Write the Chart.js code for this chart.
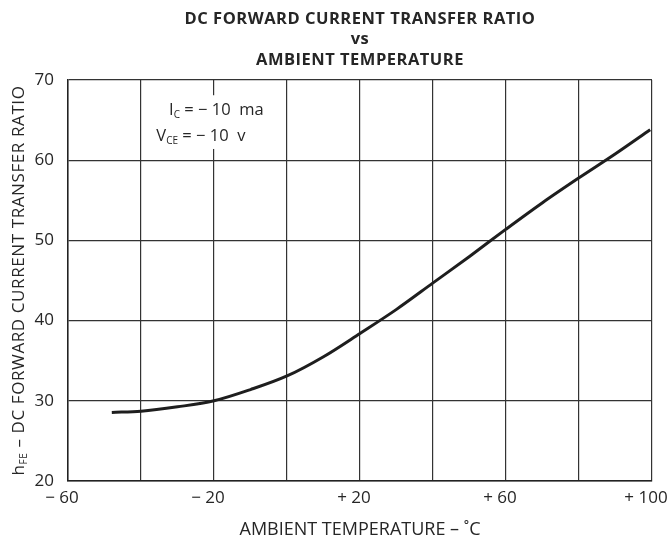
<!DOCTYPE html>
<html>
<head>
<meta charset="utf-8">
<script src="https://cdn.jsdelivr.net/npm/chart.js@4.4.0/dist/chart.umd.min.js"></script>
<style>
  html, body { margin: 0; padding: 0; background: #fff; }
  #wrap { width: 668px; height: 539px; }
</style>
</head>
<body>
<div id="wrap"><canvas id="chart" width="668" height="539"></canvas></div>
<script>
// temperature (°C) and hFE
const temps = [-48, -40, -30, -20, -10, 0, 10, 20, 30, 40, 50, 60, 70, 80, 90, 99.5];
const hfe = [28.55, 28.7, 29.25, 30.0, 31.4, 33.1, 35.5, 38.4, 41.4, 44.7, 48.0, 51.4, 54.7, 57.8, 60.8, 63.8];

const xTickLabels = { "-60": "\u2212 60", "-20": "\u2212 20", "20": "+ 20", "60": "+ 60", "100": "+ 100" };
const titleLines = ["DC FORWARD CURRENT TRANSFER RATIO", "vs", "AMBIENT TEMPERATURE"];
const xTitle = "AMBIENT TEMPERATURE \u2013 \u02DAC";
const yTitle = ["h", "FE", " \u2013 DC FORWARD CURRENT TRANSFER RATIO"];
const noteLines = [["I", "C", " = \u2212 10  ma"], ["V", "CE", " = \u2212 10  v"]];

const FONT = "'Open Sans', Lato, sans-serif";
const INK = "#262626";

// draws text with a subscript part, starting at x (left aligned)
function drawSub(ctx, x, y, parts, size) {
    ctx.textAlign = "left";
    ctx.textBaseline = "alphabetic";
    ctx.font = size + "px " + FONT;
    ctx.fillText(parts[0], x, y);
    x += ctx.measureText(parts[0]).width;
    ctx.font = Math.round(size * 0.58) + "px " + FONT;
    ctx.fillText(parts[1], x, y + 3);
    x += ctx.measureText(parts[1]).width;
    ctx.font = size + "px " + FONT;
    ctx.fillText(parts[2], x, y);
}

function subWidth(ctx, parts, size) {
    ctx.font = size + "px " + FONT;
    let w = ctx.measureText(parts[0]).width + ctx.measureText(parts[2]).width;
    ctx.font = Math.round(size * 0.58) + "px " + FONT;
    return w + ctx.measureText(parts[1]).width;
}

const textPlugin = {
    id: "textPlugin",
    beforeDraw(chart) {
        const ctx = chart.ctx;
        ctx.save();
        ctx.fillStyle = "#fff";
        ctx.fillRect(0, 0, chart.width, chart.height);
        ctx.restore();
    },
    beforeDatasetsDraw(chart) {
        // white box behind the test conditions, then the text
        const ctx = chart.ctx;
        const x = chart.scales.x, y = chart.scales.y;
        ctx.save();
        ctx.fillStyle = "#fff";
        const bx0 = x.getPixelForValue(-38), bx1 = x.getPixelForValue(-2);
        const by0 = y.getPixelForValue(68.1), by1 = y.getPixelForValue(61.4);
        ctx.fillRect(bx0, by0, bx1 - bx0, by1 - by0);
        ctx.fillStyle = INK;
        drawSub(ctx, x.getPixelForValue(-32.3), y.getPixelForValue(65.6), noteLines[0], 16.5);
        drawSub(ctx, x.getPixelForValue(-35.8), y.getPixelForValue(62.4), noteLines[1], 16.5);
        ctx.restore();
    },
    afterDraw(chart) {
        const ctx = chart.ctx;
        const area = chart.chartArea;
        const cx = (area.left + area.right) / 2;
        ctx.save();
        ctx.fillStyle = INK;
        ctx.textAlign = "center";
        ctx.textBaseline = "middle";
        ctx.letterSpacing = "0.5px";
        ctx.font = "bold 16.5px " + FONT;
        ctx.fillText(titleLines[0], cx, 19);
        ctx.fillText(titleLines[1], cx, 39);
        ctx.fillText(titleLines[2], cx, 60);

        // rotated y title with the FE subscript
        const size = 17;
        ctx.letterSpacing = "0.6px";
        const w = subWidth(ctx, yTitle, size);
        ctx.translate(24, (area.top + area.bottom) / 2);
        ctx.rotate(-Math.PI / 2);
        drawSub(ctx, -w / 2, 0, yTitle, size);
        ctx.restore();
    }
};

new Chart(document.getElementById("chart"), {
    type: "line",
    data: {
        datasets: [{
            data: temps.map((t, i) => ({ x: t, y: hfe[i] })),
            borderColor: "#1e1e1e",
            borderWidth: 3,
            pointRadius: 0,
            cubicInterpolationMode: "monotone",
            fill: false
        }]
    },
    options: {
        responsive: false,
        animation: false,
        devicePixelRatio: 1,
        layout: { padding: { top: 80, right: 16, left: 0, bottom: 0 } },
        plugins: { legend: { display: false }, tooltip: { enabled: false } },
        scales: {
            x: {
                type: "linear",
                min: -60,
                max: 100,
                grid: { color: "#333", lineWidth: 1.2, drawTicks: false },
                border: { color: "#222", width: 1.5 },
                ticks: {
                    stepSize: 20,
                    autoSkip: false,
                    maxRotation: 0,
                    padding: 7,
                    labelOffset: -6,
                    color: INK,
                    font: { family: FONT, size: 17 },
                    callback: v => xTickLabels[String(v)] || ""
                },
                title: {
                    display: true,
                    text: xTitle,
                    color: INK,
                    font: { family: FONT, size: 18, lineHeight: 1 },
                    padding: { top: 0, bottom: 0 }
                },
                afterFit: s => { s.height = 58; s.paddingLeft = 0; s.paddingRight = 0; }
            },
            y: {
                min: 20,
                max: 70,
                grid: { color: "#333", lineWidth: 1.2, drawTicks: false },
                border: { color: "#222", width: 1.5 },
                ticks: {
                    stepSize: 10,
                    padding: 14,
                    color: INK,
                    font: { family: FONT, size: 17 }
                },
                afterFit: s => { s.width = 68; s.paddingTop = 0; s.paddingBottom = 0; }
            }
        }
    },
    plugins: [textPlugin]
});
</script>
</body>
</html>
